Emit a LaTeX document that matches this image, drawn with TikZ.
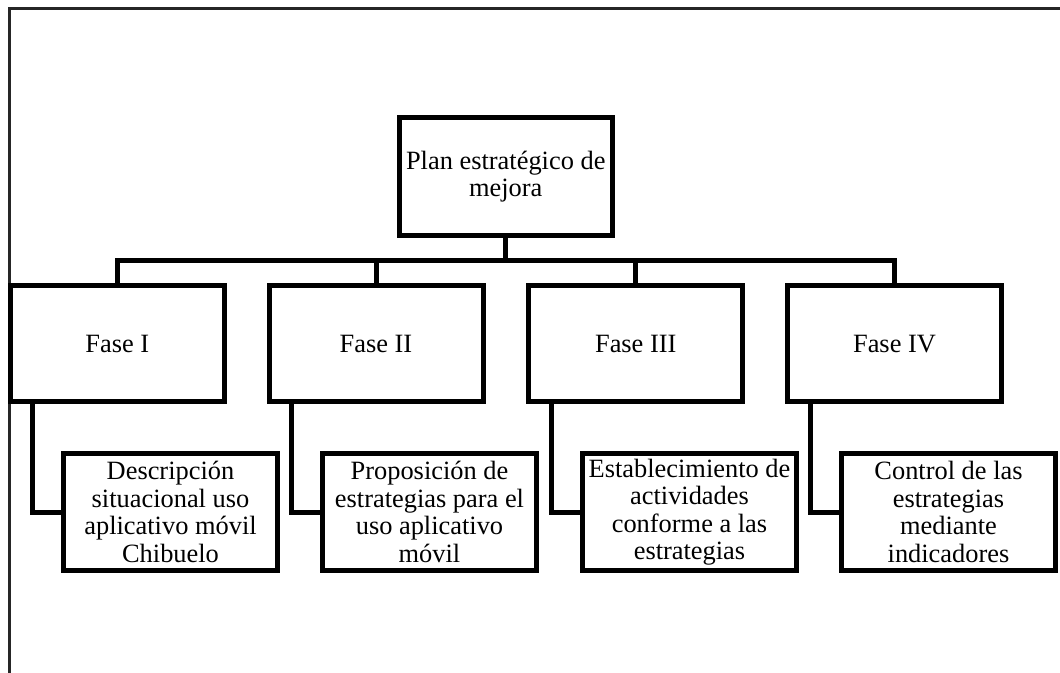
\documentclass[tikz,border=0pt]{standalone}
\usepackage{fontspec}
\setmainfont{Liberation Serif}
\begin{document}
\begin{tikzpicture}[x=0.5pt,y=-0.5pt,
  box/.style={draw, line width=2.5pt, minimum width=107pt, minimum height=58pt,
    inner sep=0pt, outer sep=0pt, align=center,
    font=\fontsize{13.2}{13.75}\selectfont},
  conn/.style={line width=2.5pt},
  frameline/.style={line width=1.2pt, draw=black!85}]
\useasboundingbox (0,0) rectangle (1060,673);

% outer frame (left and top edges only)
\coordinate (fa) at (9.5,673);
\coordinate (fb) at (9.5,8.5);
\coordinate (fc) at (1060,8.5);
\draw[frameline] (fa) -- (fb) -- (fc);

% root
\node[box, minimum width=106.25pt, minimum height=58.75pt] (plan) at (505.75,176.75) {Plan estratégico de\\mejora};

% phases
\node[box] (f1) at (117.25,344) {Fase I};
\node[box] (f2) at (376,344) {Fase II};
\node[box] (f3) at (635.75,344) {Fase III};
\node[box] (f4) at (894.5,344) {Fase IV};

% phase details
\node[box, minimum height=58.5pt] (c1) at (170.5,512) {Descripción\\situacional uso\\aplicativo móvil\\Chibuelo};
\node[box, minimum height=58.5pt] (c2) at (429.5,512) {Proposición de\\estrategias para el\\uso aplicativo\\móvil};
\node[box, minimum height=58.5pt] (c3) at (689.5,512) {Establecimiento de\\actividades\\conforme a las\\estrategias};
\node[box, minimum height=58.5pt] (c4) at (948.5,512) {Control de las\\estrategias\\mediante\\indicadores};

% tree connectors
\coordinate (bus) at (505.75,261);
\draw[conn] (plan.south) -- (plan.south |- bus);
\draw[conn] (f1.north) -- (f1.north |- bus) -| (f4.north);
\draw[conn] (f2.north) -- (f2.north |- bus);
\draw[conn] (f3.north) -- (f3.north |- bus);

% elbows from each phase to its detail box
\draw[conn] ([xshift=11.25pt]f1.south west) |- (c1.west);
\draw[conn] ([xshift=11.25pt]f2.south west) |- (c2.west);
\draw[conn] ([xshift=11.25pt]f3.south west) |- (c3.west);
\draw[conn] ([xshift=11.25pt]f4.south west) |- (c4.west);
\end{tikzpicture}
\end{document}
